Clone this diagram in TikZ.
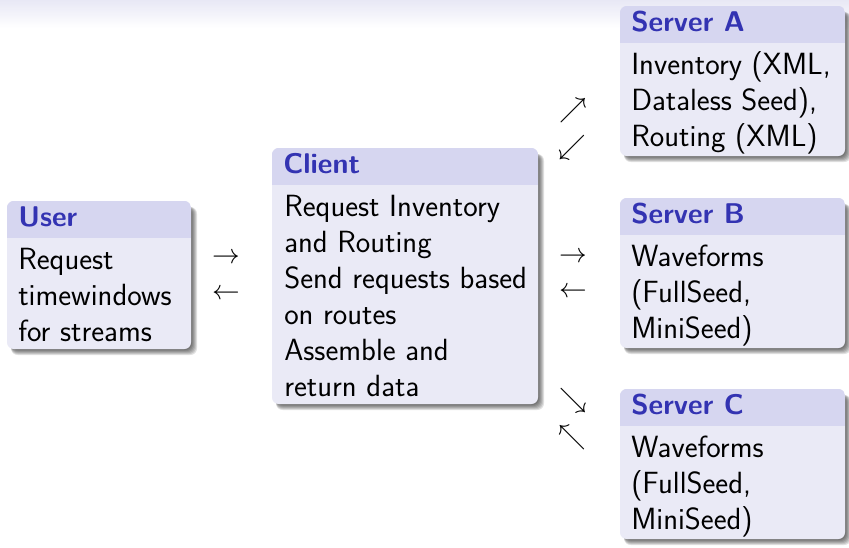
\documentclass[tikz,border=0pt]{standalone}
\usepackage{fontspec}
\definecolor{hdr}{RGB}{214,214,240}
\definecolor{bdy}{RGB}{234,234,246}
\definecolor{ttl}{RGB}{51,51,178}
\definecolor{topband}{RGB}{232,232,245}
\tikzset{
  txt/.style={anchor=base west,inner sep=0pt,font=\sffamily\fontsize{23}{27}\selectfont},
  ttxt/.style={anchor=base west,inner sep=0pt,font=\sffamily\bfseries\fontsize{21.4}{27}\selectfont,text=ttl},
  arr/.style={inner sep=0pt,font=\fontsize{21.5}{27}\selectfont},
}
\newcommand\bblock[6]{%
  \foreach \d in {1,...,6}{\fill[black,opacity=0.12,rounded corners=5pt] (#2+4,#3+6) rectangle (#4+\d,#5+\d);}
  \fill[bdy,rounded corners=5pt] (#2,#3) rectangle (#4,#5);
  \begin{scope}
    \clip[rounded corners=5pt] (#2,#3) rectangle (#4,#5);
    \fill[hdr] (#2,#3) rectangle (#4,#3+37);
  \end{scope}
  \node[ttxt] (#1) at (#2+11,#3+25) {#6};
}
\begin{document}
\begin{tikzpicture}[x=0.75pt,y=-0.75pt]
\useasboundingbox (0,0) rectangle (849,547);
\shade[top color=topband,bottom color=white] (0,0) rectangle (849,28);

% User
\bblock{user}{7}{201}{191}{349}{User}
\node[txt] (user1) at (18,269) {Request};
\node[txt] (user2) at (18,305) {timewindows};
\node[txt] (user3) at (18,341) {for streams};

% Client
\bblock{client}{272}{148}{538}{404}{Client}
\node[txt] (cl1) at (284,216) {Request Inventory};
\node[txt] (cl2) at (284,252) {and Routing};
\node[txt] (cl3) at (284,288) {Send requests based};
\node[txt] (cl4) at (284,324) {on routes};
\node[txt] (cl5) at (284,360) {Assemble and};
\node[txt] (cl6) at (284,396) {return data};

% Server A
\bblock{srvA}{620}{6}{845}{156}{Server A}
\node[txt] (a1) at (631,74) {Inventory (XML,};
\node[txt] (a2) at (631,110) {Dataless Seed),};
\node[txt] (a3) at (631,146) {Routing (XML)};

% Server B
\bblock{srvB}{620}{198}{845}{348}{Server B}
\node[txt] (b1) at (631,266) {Waveforms};
\node[txt] (b2) at (631,302) {(FullSeed,};
\node[txt] (b3) at (631,338) {MiniSeed)};

% Server C
\bblock{srvC}{620}{389}{845}{539}{Server C}
\node[txt] (c1) at (631,457) {Waveforms};
\node[txt] (c2) at (631,493) {(FullSeed,};
\node[txt] (c3) at (631,529) {MiniSeed)};

% arrows
\node[arr] (uc1) at (226,258) {$\rightarrow$};
\node[arr] (uc2) at (226,294) {$\leftarrow$};
\node[arr] (cb1) at (573,257) {$\rightarrow$};
\node[arr] (cb2) at (573,292) {$\leftarrow$};
\node[arr] (ca1) at (573,111) {$\nearrow$};
\node[arr] (ca2) at (572,148) {$\swarrow$};
\node[arr] (cc1) at (573,401) {$\searrow$};
\node[arr] (cc2) at (572,438) {$\nwarrow$};
\end{tikzpicture}
\end{document}
